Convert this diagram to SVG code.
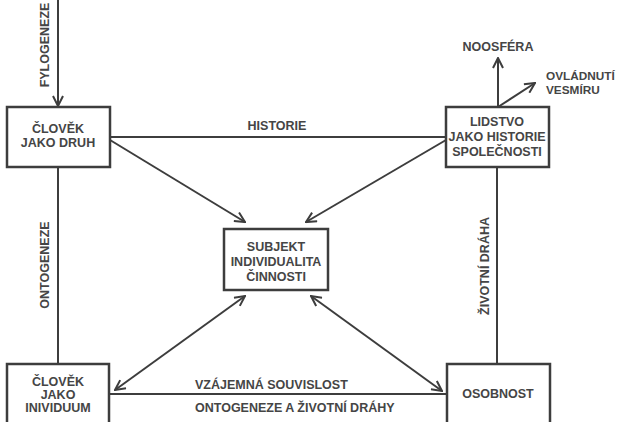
<svg xmlns="http://www.w3.org/2000/svg" width="618" height="422" viewBox="0 0 618 422">
  <defs>
    <marker id="arrow" viewBox="0 0 12 12" refX="11" refY="6" markerWidth="12" markerHeight="12" markerUnits="userSpaceOnUse" orient="auto-start-reverse">
      <path d="M1,1 L11,6 L1,11" fill="none" stroke="#3d3d3d" stroke-width="2"/>
    </marker>
    <style>
      .box { fill: #ffffff; stroke: #3d3d3d; stroke-width: 2.5; }
      .line { fill: none; stroke: #3d3d3d; stroke-width: 2; }
      .arr { marker-end: url(#arrow); }
      .both { marker-start: url(#arrow); marker-end: url(#arrow); }
      text { font-family: "Liberation Sans", Arial, sans-serif; font-weight: bold; font-size: 12.5px; fill: #454545; text-anchor: middle; }
      .lbl { font-size: 12.5px; }
      .side { font-size: 11.8px; }
      .start { text-anchor: start; }
    </style>
  </defs>
  <rect width="618" height="422" fill="#ffffff"/>

  <g id="connectors">
    <!-- fylogeneze into species node -->
    <line class="line arr" x1="58" y1="0" x2="58" y2="106"/>
    <!-- historie -->
    <line class="line" x1="110" y1="137" x2="446" y2="137"/>
    <!-- ontogeneze / zivotni draha verticals -->
    <line class="line" x1="58" y1="167" x2="58" y2="364"/>
    <line class="line" x1="497" y1="167" x2="497" y2="364"/>
    <!-- mutual link between individual and personality -->
    <line class="line" x1="109" y1="394" x2="447" y2="394"/>
    <!-- into subject -->
    <line class="line arr" x1="110" y1="140" x2="245" y2="222"/>
    <line class="line arr" x1="446" y1="140" x2="306" y2="222"/>
    <!-- subject to bottom nodes -->
    <line class="line both" x1="245" y1="296" x2="115" y2="390"/>
    <line class="line both" x1="311" y1="296" x2="442" y2="391"/>
    <!-- outlook from humanity -->
    <line class="line arr" x1="498" y1="107" x2="498" y2="58"/>
    <line class="line arr" x1="498" y1="107" x2="535" y2="83"/>
  </g>

  <g id="label-fylogeneze"><text class="lbl" transform="translate(49,45) rotate(-90)">FYLOGENEZE</text></g>
  <g id="label-ontogeneze"><text class="lbl" transform="translate(49,265) rotate(-90)">ONTOGENEZE</text></g>
  <g id="label-zivotni-draha"><text class="lbl" transform="translate(489,266) rotate(-90)">ŽIVOTNÍ DRÁHA</text></g>
  <g id="label-historie"><text class="lbl" x="277" y="130">HISTORIE</text></g>
  <g id="label-vzajemna"><text class="lbl start" x="195" y="389">VZÁJEMNÁ SOUVISLOST</text></g>
  <g id="label-ontogeneze-drahy"><text class="lbl start" x="195" y="412">ONTOGENEZE A ŽIVOTNÍ DRÁHY</text></g>
  <g id="label-noosfera"><text class="lbl" x="498" y="51">NOOSFÉRA</text></g>
  <g id="label-ovladnuti"><text class="side start" x="546" y="80">OVLÁDNUTÍ</text><text class="side start" x="546" y="94">VESMÍRU</text></g>

  <g id="node-clovek-druh">
    <rect class="box" x="7" y="107" width="103" height="60"/>
    <text x="58" y="133">ČLOVĚK</text>
    <text x="58" y="147">JAKO DRUH</text>
  </g>

  <g id="node-lidstvo">
    <rect class="box" x="446" y="107" width="103" height="60"/>
    <text x="497" y="126">LIDSTVO</text>
    <text x="497" y="141">JAKO HISTORIE</text>
    <text x="497" y="156">SPOLEČNOSTI</text>
  </g>

  <g id="node-subjekt">
    <rect class="box" x="224" y="229" width="104" height="61"/>
    <text x="276" y="251">SUBJEKT</text>
    <text x="276" y="266">INDIVIDUALITA</text>
    <text x="276" y="281">ČINNOSTI</text>
  </g>

  <g id="node-clovek-individuum">
    <rect class="box" x="7" y="364" width="102" height="70"/>
    <text x="58" y="386">ČLOVĚK</text>
    <text x="58" y="399">JAKO</text>
    <text x="58" y="412">INIVIDUUM</text>
  </g>

  <g id="node-osobnost">
    <rect class="box" x="447" y="364" width="103" height="70"/>
    <text x="498" y="398">OSOBNOST</text>
  </g>
</svg>
